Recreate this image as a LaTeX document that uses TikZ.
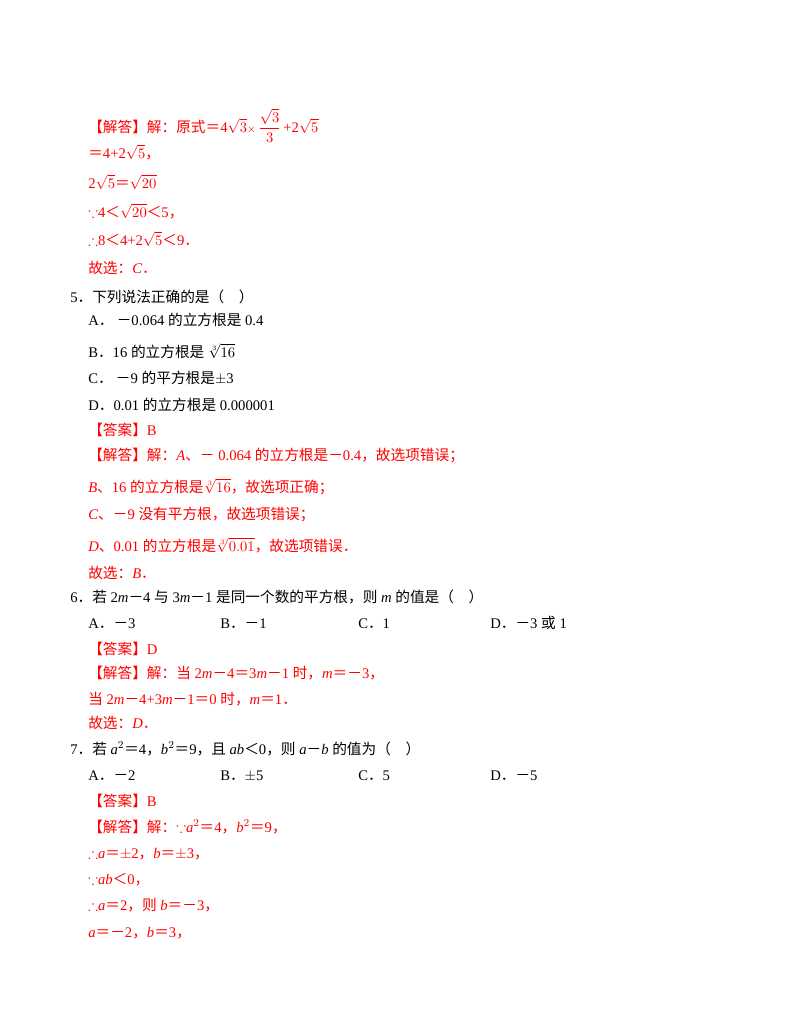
\documentclass[tikz,border=0pt]{standalone}
\usepackage{amsmath,amssymb}
\usepackage{fontspec}
\setmainfont{Liberation Serif}
\newfontfamily\cjk{Noto Sans CJK SC}
\newcommand\C[1]{{\cjk #1}}
\definecolor{rd}{RGB}{255,0,0}
\begin{document}
\begin{tikzpicture}[x=0.75pt,y=-0.75pt,
 t/.style={anchor=base west,inner sep=0pt,font=\fontsize{11}{13}\selectfont},
 r/.style={t,text=rd}]
\useasboundingbox (0,0) rectangle (800,1035);
\node[r] (l1) at (88,132) {\C{【解答】解：原式＝}4$\sqrt{3}${\footnotesize$\times$}\,$\dfrac{\sqrt{3}}{3}$\,+2$\sqrt{5}$};
\node[r] (l2) at (88,158) {\C{＝}4+2$\sqrt{5}$\C{，}};
\node[r] (l3) at (88,188) {2$\sqrt{5}$\C{＝}$\sqrt{20}$};
\node[r] (l4) at (88,217) {$\because$4\C{＜}$\sqrt{20}$\C{＜}5\C{，}};
\node[r] (l5) at (88,245) {$\therefore$8\C{＜}4+2$\sqrt{5}$\C{＜}9\C{．}};
\node[r] (l6) at (88,273) {\C{故选：}\textit{C}\C{．}};
\node[t] (q5) at (70,302) {5\C{．下列说法正确的是（\quad ）}};
\node[t] (a5) at (88,325) {A\C{．\ －}0.064 \C{的立方根是} 0.4};
\node[t] (b5) at (88,357) {B\C{．}16 \C{的立方根是} $\sqrt[3]{16}$};
\node[t] (c5) at (88,383) {C\C{．\ －}9 \C{的平方根是}$\pm$3};
\node[t] (d5) at (88,410) {D\C{．}0.01 \C{的立方根是} 0.000001};
\node[r] (k5) at (88,435) {\C{【答案】}B};
\node[r] (j5) at (88,460) {\C{【解答】解：}\textit{A}\C{、－} 0.064 \C{的立方根是－}0.4\C{，故选项错误；}};
\node[r] (j5b) at (88,492) {\textit{B}\C{、}16 \C{的立方根是}$\sqrt[3]{16}$\C{，故选项正确；}};
\node[r] (j5c) at (88,519) {\textit{C}\C{、－}9 \C{没有平方根，故选项错误；}};
\node[r] (j5d) at (88,551) {\textit{D}\C{、}0.01 \C{的立方根是}$\sqrt[3]{0.01}$\C{，故选项错误．}};
\node[r] (g5) at (88,578) {\C{故选：}\textit{B}\C{．}};
\node[t] (q6) at (70,602) {6\C{．若} 2\textit{m}\C{－}4 \C{与} 3\textit{m}\C{－}1 \C{是同一个数的平方根，则} \textit{m} \C{的值是（\quad ）}};
\node[t] (a6) at (88,628) {A\C{．－}3};
\node[t] (b6) at (220,628) {B\C{．－}1};
\node[t] (c6) at (358,628) {C\C{．}1};
\node[t] (d6) at (490,628) {D\C{．－}3 \C{或} 1};
\node[r] (k6) at (88,654) {\C{【答案】}D};
\node[r] (j6) at (88,678) {\C{【解答】解：当} 2\textit{m}\C{－}4\C{＝}3\textit{m}\C{－}1 \C{时，}\textit{m}\C{＝－}3\C{，}};
\node[r] (j6b) at (88,704) {\C{当} 2\textit{m}\C{－}4+3\textit{m}\C{－}1\C{＝}0 \C{时，}\textit{m}\C{＝}1\C{．}};
\node[r] (g6) at (88,728) {\C{故选：}\textit{D}\C{．}};
\node[t] (q7) at (70,754) {7\C{．若} \textit{a}$^2$\C{＝}4\C{，}\textit{b}$^2$\C{＝}9\C{，且} \textit{ab}\C{＜}0\C{，则} \textit{a}\C{－}\textit{b} \C{的值为（\quad ）}};
\node[t] (a7) at (88,780) {A\C{．－}2};
\node[t] (b7) at (220,780) {B\C{．}$\pm$5};
\node[t] (c7) at (358,780) {C\C{．}5};
\node[t] (d7) at (490,780) {D\C{．－}5};
\node[r] (k7) at (88,806) {\C{【答案】}B};
\node[r] (j7) at (88,832) {\C{【解答】解：}$\because$\textit{a}$^2$\C{＝}4\C{，}\textit{b}$^2$\C{＝}9\C{，}};
\node[r] (j7b) at (88,858) {$\therefore$\textit{a}\C{＝}$\pm$2\C{，}\textit{b}\C{＝}$\pm$3\C{，}};
\node[r] (j7c) at (88,884) {$\because$\textit{ab}\C{＜}0\C{，}};
\node[r] (j7d) at (88,910) {$\therefore$\textit{a}\C{＝}2\C{，则} \textit{b}\C{＝－}3\C{，}};
\node[r] (j7e) at (88,937) {\textit{a}\C{＝－}2\C{，}\textit{b}\C{＝}3\C{，}};
\end{tikzpicture}
\end{document}
